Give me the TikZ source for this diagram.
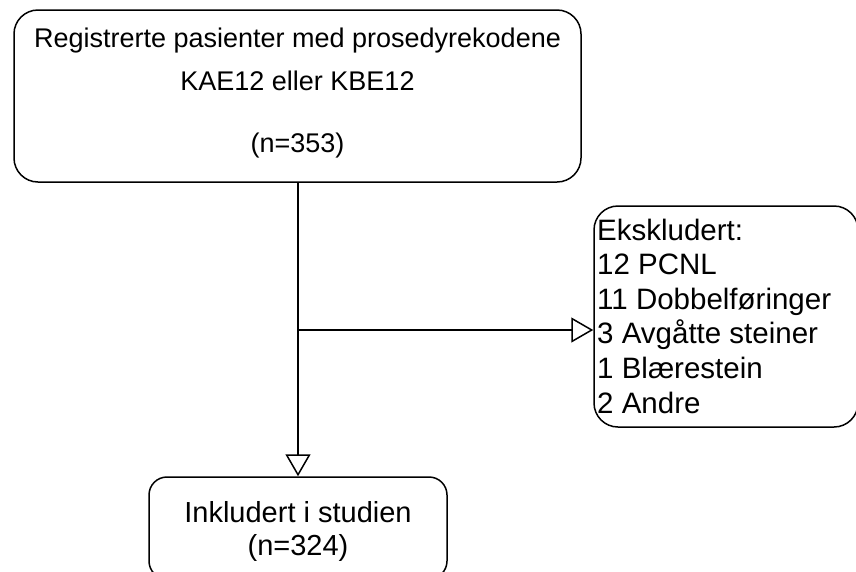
\documentclass[tikz,border=0pt]{standalone}
\usepackage{fontspec}
\setmainfont{Liberation Sans}
\usetikzlibrary{arrows.meta}
\begin{document}
\begin{tikzpicture}[x=1pt,y=-1pt,
  box/.style={draw=black, line width=1.5pt, rectangle, inner sep=0pt},
  txt/.style={inner sep=0pt, anchor=base, text=black},
  conn/.style={draw=black, line width=1.5pt},
  opentip/.style={-{Triangle[open,length=22pt,width=25pt]}}]
\useasboundingbox (0,0) rectangle (856,571);
% boxes
\node[box, rounded corners=24pt, minimum width=567pt, minimum height=172pt] (top) at (297.5,96) {};
\node[box, rounded corners=24pt, minimum width=264pt, minimum height=221pt] (ex) at (726,316.5) {};
\node[box, rounded corners=18pt, minimum width=298pt, minimum height=102pt] (inc) at (298,528) {};
% top text
\node[txt, font=\fontsize{27}{32}\selectfont] (t1) at (297.5,47) {Registrerte pasienter med prosedyrekodene};
\node[txt, font=\fontsize{27}{32}\selectfont] (t2) at (297.5,90) {KAE12 eller KBE12};
\node[txt, font=\fontsize{27}{32}\selectfont] (t3) at (297.5,152) {(n=353)};
% excluded text
\node[txt, anchor=base west, font=\fontsize{29.5}{34}\selectfont] (e1) at (597,240) {Ekskludert:};
\node[txt, anchor=base west, font=\fontsize{29.5}{34}\selectfont] (e2) at (597,274.6) {12 PCNL};
\node[txt, anchor=base west, font=\fontsize{29.5}{34}\selectfont] (e3) at (597,309.2) {11 Dobbelføringer};
\node[txt, anchor=base west, font=\fontsize{29.5}{34}\selectfont] (e4) at (597,343.8) {3 Avgåtte steiner};
\node[txt, anchor=base west, font=\fontsize{29.5}{34}\selectfont] (e5) at (597,378.4) {1 Blærestein};
\node[txt, anchor=base west, font=\fontsize{29.5}{34}\selectfont] (e6) at (597,413) {2 Andre};
% included text
\node[txt, font=\fontsize{29}{34}\selectfont] (i1) at (298,522) {Inkludert i studien};
\node[txt, font=\fontsize{29}{34}\selectfont] (i2) at (298,555) {(n=324)};
% connectors
\coordinate (j) at (298,330);
\draw[conn, opentip] (top.south -| inc.north) -- (inc.north);
\draw[conn, opentip] (j) -- (j -| ex.west);
\end{tikzpicture}
\end{document}
